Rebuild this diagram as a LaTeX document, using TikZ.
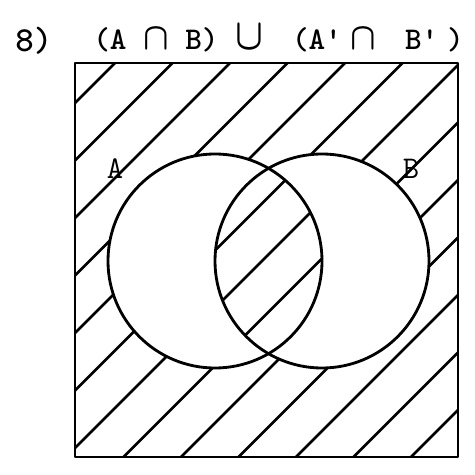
\documentclass[tikz,border=0pt]{standalone}
\usepackage{fontspec}
\usepackage{amsmath, amssymb}
\usepackage{graphicx}
\usetikzlibrary{positioning}

\newcommand{\capsym}{\scalebox{1.1}[1.25]{$\boldsymbol{\cap}$}}
\newcommand{\cupsym}{\scalebox{1.2}[1.45]{$\boldsymbol{\cup}$}}

\begin{document}
\begin{tikzpicture}[
        x=0.02cm, y=-0.02cm,
        every node/.style={font=\ttfamily\fontsize{18}{22}\selectfont, inner sep=0pt},
        num/.style={font=\ttfamily\bfseries\fontsize{20}{24}\selectfont},
        heading/.style={font=\ttfamily\bfseries\fontsize{18}{22}\selectfont},
        edge/.style={line width=1.6pt, line join=round},
        hatch/.style={line width=1.5pt, line cap=round}
    ]
        \useasboundingbox (0,0) rectangle (474,475);

        \node[num, anchor=base west] (nr) at (15,52) {8)};
        \node[heading, anchor=base west] (title) at (93,50)
            {(A \capsym{} B) \cupsym{}\hspace{7pt} (A'\hspace{5pt}\capsym{}\hspace{7pt} B'\hspace{5pt})};

        % hatching: outside both sets, and A and B
        \begin{scope}[even odd rule]
            \clip (75,63) rectangle (458,457)
                (215,261) circle[radius=107] (322,261) circle[radius=107];
            \foreach \c in {0,...,12}
                \draw[hatch] (178+57.5*\c-500,500) -- (178+57.5*\c+500,-500);
        \end{scope}

        \draw[edge] (75,63) rectangle (458,457);
        \draw[edge] (215,261) circle[radius=107];
        \draw[edge] (322,261) circle[radius=107];

        \node (setA) at (115,169) {A};
        \node (setB) at (411,169) {B};
    \end{tikzpicture}
\end{document}
